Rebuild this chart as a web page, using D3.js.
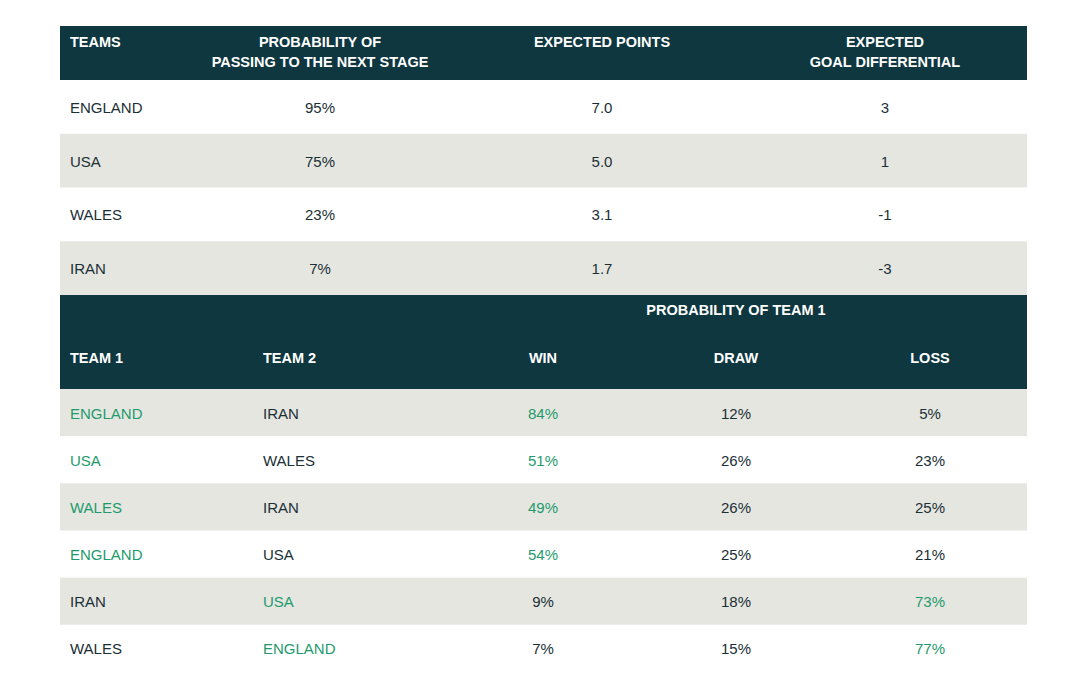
<!DOCTYPE html>
<html><head><meta charset="utf-8">
<script src="https://cdn.jsdelivr.net/npm/d3@7"></script>
<style>body{margin:0;background:#fff}svg{display:block}</style>
</head><body><svg id="c" width="1080" height="685"></svg>
<script>
const teams = ["ENGLAND","USA","WALES","IRAN"];
const passProb = ["95%","75%","23%","7%"];
const expPoints = ["7.0","5.0","3.1","1.7"];
const goalDiff = ["3","1","-1","-3"];

const team1 = ["ENGLAND","USA","WALES","ENGLAND","IRAN","WALES"];
const team2 = ["IRAN","WALES","IRAN","USA","USA","ENGLAND"];
const winP = [84,51,49,54,9,7];
const drawP = [12,26,26,25,18,15];
const lossP = [5,23,25,21,73,77];

const DARK="#0e3740", GRAY="#e6e6e1", TXT="#1a3036", GREEN="#1e9a6c";
const svg=d3.select("#c");
const L=60,R=1027;
const font="'Liberation Sans', Arial, sans-serif";

// top table
svg.append("rect").attr("x",L).attr("y",26).attr("width",R-L).attr("height",54).attr("fill",DARK);
const hdr=[{x:70,a:"start",t:["TEAMS"]},{x:320,a:"middle",t:["PROBABILITY OF","PASSING TO THE NEXT STAGE"]},
 {x:602,a:"middle",t:["EXPECTED POINTS"]},{x:885,a:"middle",t:["EXPECTED","GOAL DIFFERENTIAL"]}];
hdr.forEach(h=>h.t.forEach((s,i)=>svg.append("text").attr("x",h.x).attr("y",47+i*20).attr("text-anchor",h.a)
 .attr("fill","#fff").attr("font-family",font).attr("font-weight","bold").attr("font-size",14.5).text(s)));

const y1=d3.scaleBand().domain(teams).range([80,295]);
teams.forEach((t,i)=>{
  const y=y1(t), cy=y+y1.bandwidth()/2+6;
  if(i%2===1) svg.append("rect").attr("x",L).attr("y",y).attr("width",R-L).attr("height",y1.bandwidth()).attr("fill",GRAY);
  const cells=[[70,"start",t],[320,"middle",passProb[i]],[602,"middle",expPoints[i]],[885,"middle",goalDiff[i]]];
  cells.forEach(c=>svg.append("text").attr("x",c[0]).attr("y",cy).attr("text-anchor",c[1]).attr("fill",TXT)
    .attr("font-family",font).attr("font-size",15).text(c[2]));
});

// bottom table
svg.append("rect").attr("x",L).attr("y",295).attr("width",R-L).attr("height",94).attr("fill",DARK);
svg.append("text").attr("x",736).attr("y",315).attr("text-anchor","middle").attr("fill","#fff").attr("font-family",font)
 .attr("font-weight","bold").attr("font-size",14.5).text("PROBABILITY OF TEAM 1");
[[70,"start","TEAM 1"],[263,"start","TEAM 2"],[543,"middle","WIN"],[736,"middle","DRAW"],[930,"middle","LOSS"]]
 .forEach(c=>svg.append("text").attr("x",c[0]).attr("y",363).attr("text-anchor",c[1]).attr("fill","#fff")
 .attr("font-family",font).attr("font-weight","bold").attr("font-size",14.5).text(c[2]));

const y2=d3.scaleBand().domain(d3.range(team1.length)).range([389,672]);
team1.forEach((t,i)=>{
  const y=y2(i), cy=y+y2.bandwidth()/2+6;
  if(i%2===0) svg.append("rect").attr("x",L).attr("y",y).attr("width",R-L).attr("height",y2.bandwidth()).attr("fill",GRAY);
  const t1win=winP[i]>lossP[i];
  const cells=[[70,"start",t,t1win],[263,"start",team2[i],!t1win],[543,"middle",winP[i]+"%",t1win],
    [736,"middle",drawP[i]+"%",false],[930,"middle",lossP[i]+"%",!t1win]];
  cells.forEach(c=>svg.append("text").attr("x",c[0]).attr("y",cy).attr("text-anchor",c[1]).attr("fill",c[3]?GREEN:TXT)
    .attr("font-family",font).attr("font-size",15).text(c[2]));
});
</script></body></html>
